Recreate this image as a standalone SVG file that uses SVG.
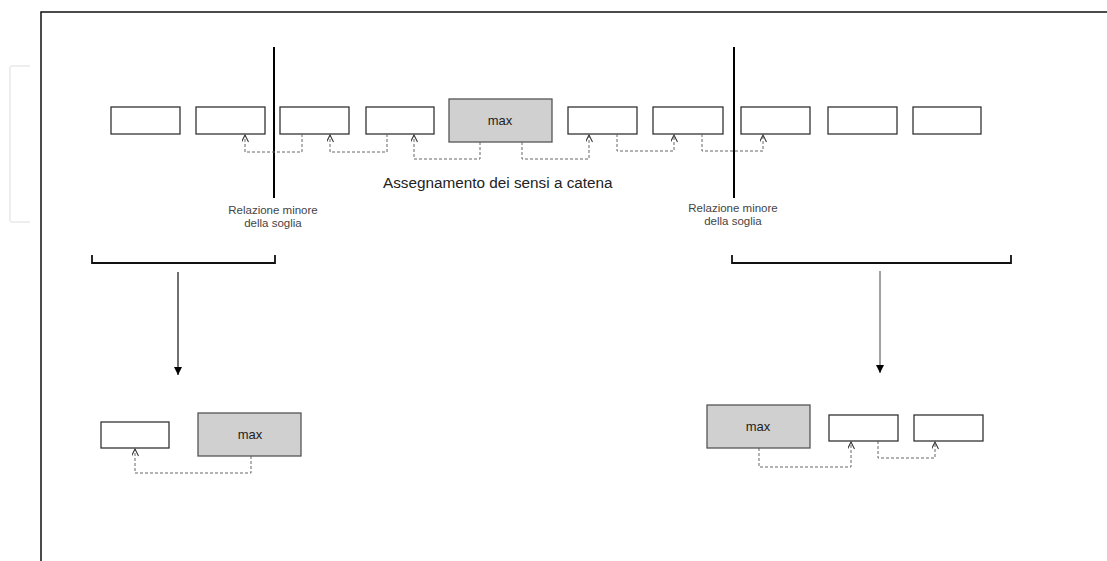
<svg xmlns="http://www.w3.org/2000/svg" width="1107" height="561" viewBox="0 0 1107 561">
<style>
.box{fill:#fff;stroke:#333;stroke-width:1.3}
.mx{fill:#d0d0d0;stroke:#555;stroke-width:1.3}
.dash{fill:none;stroke:#666;stroke-width:1;stroke-dasharray:3,2}
.lbl{font-family:"Liberation Sans",Arial,sans-serif;fill:#222}
.small{font-family:"Liberation Sans",Arial,sans-serif;font-size:11.5px;fill:#444;text-anchor:middle}
.sep{stroke:#000;stroke-width:2}
.brk{fill:none;stroke:#111;stroke-width:1.8}
</style>
<defs>
<marker id="open" viewBox="0 0 10 10" refX="10" refY="5" markerWidth="9" markerHeight="7" orient="auto" markerUnits="userSpaceOnUse">
<path d="M0,0 L10,5 L0,10" fill="none" stroke="#333" stroke-width="1.5"/>
</marker>
<marker id="solid" viewBox="0 0 10 10" refX="10" refY="5" markerWidth="10" markerHeight="8" orient="auto" markerUnits="userSpaceOnUse">
<path d="M0,0 L10,5 L0,10 z" fill="#000"/>
</marker>
</defs>
<rect width="1107" height="561" fill="#fff"/>
<g id="frame">
<path d="M41,561 L41,12 L1107,12" fill="none" stroke="#111" stroke-width="1.5"/>
<path d="M30,66 L12,66 Q10,66 10,68 L10,220 Q10,222 12,222 L30,222" fill="none" stroke="#eee" stroke-width="2"/>
</g>
<g id="separators">
<line class="sep" x1="274" y1="47" x2="274" y2="198"/>
<line class="sep" x1="734" y1="47" x2="734" y2="198"/>
</g>
<g id="top-row">
<rect id="b1" class="box" x="111" y="107" width="69" height="27"/>
<rect id="b2" class="box" x="196" y="107" width="69" height="27"/>
<rect id="b3" class="box" x="280" y="107" width="69" height="27"/>
<rect id="b4" class="box" x="366" y="107" width="68" height="27"/>
<g id="topmax"><rect class="mx" x="449" y="99" width="103" height="43"/>
<text class="lbl" x="500" y="125" font-size="13" text-anchor="middle">max</text></g>
<rect id="b5" class="box" x="568" y="107" width="69" height="27"/>
<rect id="b6" class="box" x="653" y="107" width="70" height="27"/>
<rect id="b7" class="box" x="741" y="107" width="69" height="27"/>
<rect id="b8" class="box" x="828" y="107" width="69" height="27"/>
<rect id="b9" class="box" x="913" y="107" width="68" height="27"/>
</g>
<g id="connectors">
<path class="dash" d="M302,134 V152 H245 V135" marker-end="url(#open)"/>
<path class="dash" d="M387,134 V152 H330 V135" marker-end="url(#open)"/>
<path class="dash" d="M480,142 V159 H414 V135" marker-end="url(#open)"/>
<path class="dash" d="M522,142 V159 H589 V135" marker-end="url(#open)"/>
<path class="dash" d="M617,134 V151 H674 V135" marker-end="url(#open)"/>
<path class="dash" d="M702,134 V151 H763 V135" marker-end="url(#open)"/>
<path class="dash" d="M251,456 V473 H135 V449" marker-end="url(#open)"/>
<path class="dash" d="M759,448 V467 H851 V442" marker-end="url(#open)"/>
<path class="dash" d="M878,441 V458 H935 V442" marker-end="url(#open)"/>
<line x1="178" y1="272" x2="178" y2="375" stroke="#222" stroke-width="1.3" marker-end="url(#solid)"/>
<line x1="880" y1="271" x2="880" y2="373" stroke="#444" stroke-width="1" marker-end="url(#solid)"/>
</g>
<g id="labels">
<text class="lbl" x="383" y="188" font-size="15.3">Assegnamento dei sensi a catena</text>
<text class="small" x="273" y="214">Relazione minore</text>
<text class="small" x="273" y="227">della soglia</text>
<text class="small" x="733" y="212">Relazione minore</text>
<text class="small" x="733" y="225">della soglia</text>
</g>
<g id="brackets">
<path class="brk" d="M92,255 V263 H275 V255"/>
<path class="brk" d="M732,255 V263 H1011 V255"/>
</g>
<g id="bottom-left">
<rect class="box" x="101" y="422" width="68" height="26"/>
<g id="blmax"><rect class="mx" x="198" y="413" width="103" height="43"/>
<text class="lbl" x="250" y="439" font-size="13" text-anchor="middle">max</text></g>
</g>
<g id="bottom-right">
<g id="brmax"><rect class="mx" x="707" y="405" width="103" height="43"/>
<text class="lbl" x="758" y="431" font-size="13" text-anchor="middle">max</text></g>
<rect class="box" x="829" y="415" width="69" height="26"/>
<rect class="box" x="914" y="415" width="69" height="26"/>
</g>
</svg>
